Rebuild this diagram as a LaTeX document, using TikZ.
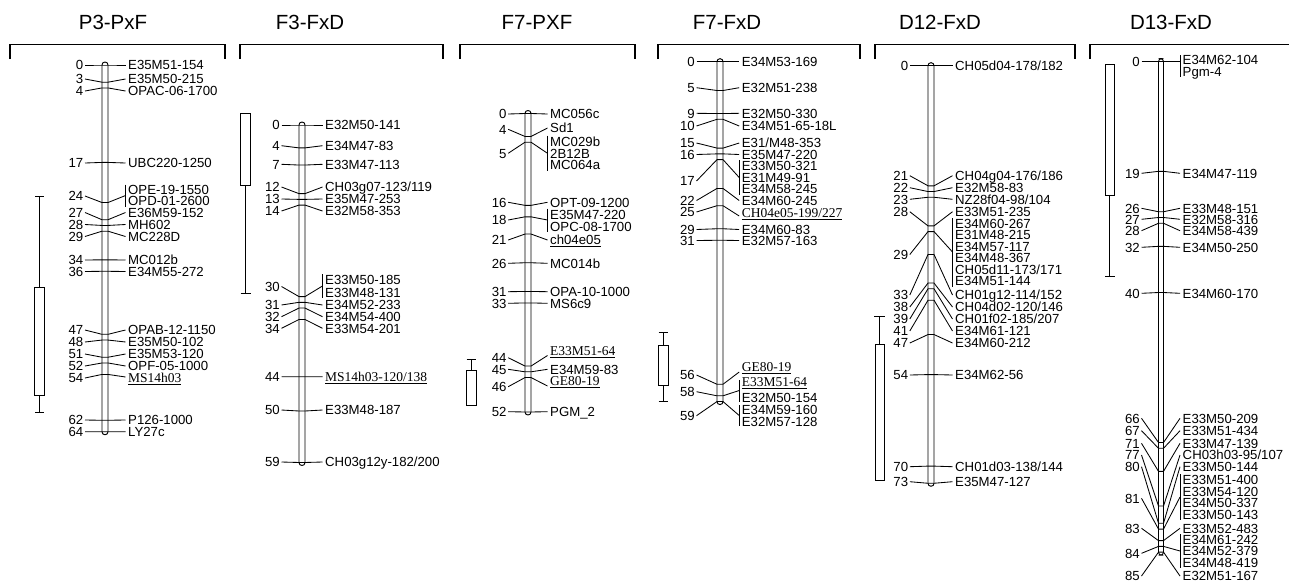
\documentclass[tikz,border=0pt]{standalone}
\usepackage{fontspec}
\setmainfont{Liberation Sans}
\newfontfamily\serf{Liberation Serif}
\newcounter{lab}
\tikzset{
 lbl/.style={inner sep=0pt, text height=9.5pt, text depth=0pt, font=\fontsize{13.2}{14}\selectfont},
 ulbl/.style={inner sep=0pt, text height=9.5pt, text depth=0pt, font=\serf\fontsize{13.5}{14}\selectfont},
 con/.style={line width=0.85pt},
 barst/.style={line width=0.95pt, fill=white, rounded corners=2.9pt},
 brk/.style={line width=1.8pt},
 qtlst/.style={line width=0.95pt},
 ttl/.style={font=\fontsize{20.5}{24}\selectfont, inner sep=0pt}
}
\def\setmap#1#2#3#4#5#6{\def\mNR{#1}\def\mBL{#2}\def\mBR{#3}\def\mNL{#4}\def\mY{#5}\def\mS{#6}}
\newcommand\mk[3]{\stepcounter{lab}%
 \node[lbl,anchor=east] (n\arabic{lab}) at (\mNR,#2) {#1};
 \draw[con] ([xshift=1.5pt]n\arabic{lab}.east) -- (\mBL,{\mY+#1*\mS}) -- (\mBR,{\mY+#1*\mS}) -- ({\mNL-2.5},#3);}
\newcommand\nm[2]{\stepcounter{lab}\node[lbl,anchor=west] (n\arabic{lab}) at (\mNL,#1) {#2};}
\newcommand\um[2]{\stepcounter{lab}\node[ulbl,anchor=west] (n\arabic{lab}) at (\mNL,#1) {\underline{#2}};}
\newcommand\sm[3]{\mk{#1}{#2}{#2}\nm{#2}{#3}}
\newcommand\grp[2]{\draw[con] ({\mNL-2.5},#1) -- ({\mNL-2.5},#2);}
\newcommand\chrom[1]{\draw[barst] (\mBL,{\mY-3}) rectangle (\mBR,{\mY+#1*\mS+3});}
\begin{document}
\begin{tikzpicture}[x=1pt,y=-1pt]
\useasboundingbox (0,0) rectangle (1289,582);
% titles
\node[ttl] (t1) at (113,22) {P3-PxF};
\node[ttl] (t2) at (310,22) {F3-FxD};
\node[ttl] (t3) at (537,22) {F7-PXF};
\node[ttl] (t4) at (727,22) {F7-FxD};
\node[ttl] (t5) at (940,22) {D12-FxD};
\node[ttl] (t6) at (1171,22) {D13-FxD};
% brackets
\draw[brk] (10,59) -- (10,44.5) -- (225,44.5) -- (225,59);
\draw[brk] (240,59) -- (240,44.5) -- (443,44.5) -- (443,59);
\draw[brk] (460,59) -- (460,44.5) -- (635,44.5) -- (635,59);
\draw[brk] (658,59) -- (658,44.5) -- (860,44.5) -- (860,59);
\draw[brk] (875,59) -- (875,44.5) -- (1075,44.5) -- (1075,59);
\draw[brk] (1090,59) -- (1090,44.5) -- (1290,44.5);
% QTL bars
\draw[qtlst] (35,196.7) -- (44,196.7) (39.5,196.7) -- (39.5,287.3) (39.5,395.7) -- (39.5,412.7) (35,412.7) -- (44,412.7);
\draw[qtlst] (34,287.3) rectangle (44.5,395.7);
\draw[qtlst] (240.7,113.3) rectangle (250.7,185);
\draw[qtlst] (245.7,185) -- (245.7,293.3) (240.5,293.3) -- (251,293.3);
\draw[qtlst] (466.5,359) -- (475.5,359) (471,359) -- (471,370.7);
\draw[qtlst] (466.7,370.7) rectangle (476,405);
\draw[qtlst] (658.5,332.7) -- (668,332.7) (663.3,332.7) -- (663.3,345) (663.3,385) -- (663.3,401.7) (658.5,401.7) -- (668,401.7);
\draw[qtlst] (658.3,345) rectangle (668.3,385);
\draw[qtlst] (874,316) -- (885,316) (879.3,316) -- (879.3,344.3);
\draw[qtlst] (875,344.3) rectangle (884.3,480.7);
\draw[qtlst] (1105,64.3) rectangle (1114.3,195);
\draw[qtlst] (1109.7,195) -- (1109.7,276) (1105,276) -- (1114.5,276);
% ---- map 1 P3-PxF
\setmap{83.5}{102}{108}{128}{65}{5.73}
\chrom{64}
\sm{0}{65}{E35M51-154}
\sm{3}{79}{E35M50-215}
\sm{4}{91}{OPAC-06-1700}
\sm{17}{163}{UBC220-1250}
\mk{24}{196}{195.5}\grp{184.5}{206.5}\nm{189.5}{OPE-19-1550}\nm{201}{OPD-01-2600}
\sm{27}{212.5}{E36M59-152}
\sm{28}{224.5}{MH602}
\sm{29}{236.5}{MC228D}
\sm{34}{260}{MC012b}
\sm{36}{271.5}{E34M55-272}
\sm{47}{330}{OPAB-12-1150}
\sm{48}{342}{E35M50-102}
\sm{51}{354}{E35M53-120}
\sm{52}{366}{OPF-05-1000}
\mk{54}{378}{377}\um{378}{MS14h03}
\sm{62}{420}{P126-1000}
\sm{64}{431.7}{LY27c}
% ---- map 2 F3-FxD
\setmap{280}{299}{305}{325}{125}{5.72}
\chrom{59}
\sm{0}{125}{E32M50-141}
\sm{4}{145.7}{E34M47-83}
\sm{7}{164.3}{E33M47-113}
\sm{12}{187}{CH03g07-123/119}
\sm{13}{199}{E35M47-253}
\sm{14}{211}{E32M58-353}
\mk{30}{286.5}{286}\grp{274}{298}\nm{280}{E33M50-185}\nm{292.5}{E33M48-131}
\sm{31}{305}{E34M52-233}
\sm{32}{316.7}{E34M54-400}
\sm{34}{328.3}{E33M54-201}
\mk{44}{376.7}{376.7}\um{376.7}{MS14h03-120/138}
\sm{50}{410}{E33M48-187}
\sm{59}{462}{CH03g12y-182/200}
% ---- map 3 F7-PXF
\setmap{506.7}{525}{531}{550}{113.5}{5.74}
\chrom{52}
\sm{0}{114}{MC056c}
\mk{4}{129.3}{128}\nm{128}{Sd1}
\mk{5}{153.3}{153.3}\grp{135.5}{171}\nm{141.7}{MC029b}\nm{153.3}{2B12B}\nm{165}{MC064a}
\sm{16}{202.3}{OPT-09-1200}
\mk{18}{220}{220}\grp{208.5}{232}\nm{214.3}{E35M47-220}\nm{226.3}{OPC-08-1700}
\mk{21}{240}{240}\nm{240}{\underline{ch04e05}}
\sm{26}{263.3}{MC014b}
\sm{31}{291.7}{OPA-10-1000}
\sm{33}{303.3}{MS6c9}
\mk{44}{357.7}{355.5}\um{350.5}{E33M51-64}
\sm{45}{369.3}{E34M59-83}
\mk{46}{386.7}{386}\um{381}{GE80-19}
\sm{52}{411.7}{PGM\_2}
% ---- map 4 F7-FxD
\setmap{695}{717}{723}{741.7}{61.7}{5.76}
\chrom{59}
\sm{0}{61.7}{E34M53-169}
\sm{5}{87.7}{E32M51-238}
\sm{9}{113.3}{E32M50-330}
\sm{10}{126}{E34M51-65-18L}
\sm{15}{143}{E31/M48-353}
\sm{16}{154.5}{E35M47-220}
\mk{17}{181}{177.5}\grp{160}{194.5}\nm{166}{E33M50-321}\nm{177.5}{E31M49-91}\nm{189}{E34M58-245}
\sm{22}{200.5}{E34M60-245}
\mk{25}{212}{216}\um{212.5}{CH04e05-199/227}
\sm{29}{229.5}{E34M60-83}
\sm{31}{240.5}{E32M57-163}
\mk{56}{375}{372}\um{366.5}{GE80-19}
\mk{58}{391.7}{390.5}\grp{380}{401.5}\um{381.7}{E33M51-64}\nm{397.3}{E32M50-154}
\mk{59}{415.7}{415.5}\grp{405}{426}\nm{410}{E34M59-160}\nm{421.7}{E32M57-128}
% ---- map 5 D12-FxD
\setmap{908.3}{928}{934}{955}{65.7}{5.72}
\chrom{73}
\sm{0}{65.7}{CH05d04-178/182}
\sm{21}{175.7}{CH04g04-176/186}
\sm{22}{187.7}{E32M58-83}
\sm{23}{199.3}{NZ28f04-98/104}
\sm{28}{211.7}{E33M51-235}
\mk{29}{254.5}{252}\grp{218}{287}\nm{223.5}{E34M60-267}\nm{235}{E31M48-215}\nm{246.5}{E34M57-117}\nm{258}{E34M48-367}\nm{269.5}{CH05d11-173/171}\nm{281}{E34M51-144}
\sm{33}{295}{CH01g12-114/152}
\sm{38}{307}{CH04d02-120/146}
\sm{39}{319}{CH01f02-185/207}
\sm{41}{331}{E34M61-121}
\sm{47}{343}{E34M60-212}
\sm{54}{375}{E34M62-56}
\sm{70}{466.7}{CH01d03-138/144}
\sm{73}{481.7}{E35M47-127}
% ---- map 6 D13-FxD
\setmap{1140}{1158.5}{1163.5}{1182.5}{61.7}{5.77}
\chrom{85}
\mk{0}{61.7}{61.7}\grp{55}{76.5}\nm{60}{E34M62-104}\nm{71.5}{Pgm-4}
\sm{19}{173.3}{E34M47-119}
\sm{26}{208.3}{E33M48-151}
\sm{27}{219.3}{E32M58-316}
\sm{28}{230.7}{E34M58-439}
\sm{32}{247.3}{E34M50-250}
\sm{40}{293.3}{E34M60-170}
\sm{66}{418.3}{E33M50-209}
\sm{67}{430.7}{E33M51-434}
\sm{71}{443.3}{E33M47-139}
\sm{77}{455}{CH03h03-95/107}
\sm{80}{466.7}{E33M50-144}
\mk{81}{498.3}{497}\grp{474}{520}\nm{479.3}{E33M51-400}\nm{491.3}{E33M54-120}\nm{503}{E34M50-337}\nm{515}{E33M50-143}
\sm{83}{528.3}{E33M52-483}
\mk{84}{553.3}{551}\grp{534}{568}\nm{539.3}{E34M61-242}\nm{551}{E34M52-379}\nm{563}{E34M48-419}
\sm{85}{576}{E32M51-167}
\end{tikzpicture}
\end{document}
